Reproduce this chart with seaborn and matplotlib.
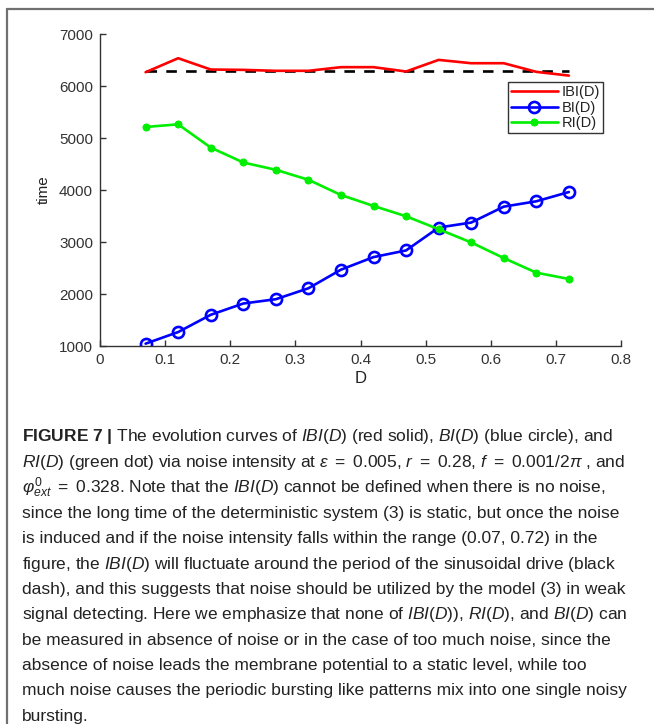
import matplotlib
matplotlib.use("Agg")
import matplotlib.pyplot as plt
import seaborn as sns
import pandas as pd
from matplotlib.lines import Line2D

# Noise intensity D and the three interval measures
noise_D = [0.07, 0.12, 0.17, 0.22, 0.27, 0.32, 0.37, 0.42, 0.47, 0.52, 0.57, 0.62, 0.67, 0.72]
ibi = [6265, 6534, 6317, 6310, 6292, 6292, 6362, 6362, 6279, 6502, 6438, 6438, 6272, 6200]
bi = [1045, 1268, 1600, 1817, 1900, 2110, 2468, 2710, 2838, 3278, 3374, 3680, 3783, 3961]
ri = [5212, 5263, 4816, 4529, 4388, 4197, 3904, 3693, 3495, 3246, 2991, 2691, 2410, 2289]
drive_period = 6283  # 2*pi / 0.001
series_labels = ["IBI(D)", "BI(D)", "RI(D)"]

x_ticks = [0, 0.1, 0.2, 0.3, 0.4, 0.5, 0.6, 0.7, 0.8]
x_tick_labels = ["0", "0.1", "0.2", "0.3", "0.4", "0.5", "0.6", "0.7", "0.8"]
y_ticks = [1000, 2000, 3000, 4000, 5000, 6000, 7000]

caption_lines = [
    r"$\mathbf{FIGURE\ 7\ |}$ The evolution curves of $\mathit{IBI}$($\mathit{D}$) (red solid), $\mathit{BI}$($\mathit{D}$) (blue circle), and",
    r"$\mathit{RI}$($\mathit{D}$) (green dot) via noise intensity at $\varepsilon\ =\ 0.005$, $r\ =\ 0.28$, $f\ =\ 0.001/2\pi$ , and",
    r"$\varphi_{ext}^{0}\ =\ 0.328$. Note that the $\mathit{IBI}$($\mathit{D}$) cannot be defined when there is no noise,",
    "since the long time of the deterministic system (3) is static, but once the noise",
    "is induced and if the noise intensity falls within the range (0.07, 0.72) in the",
    r"figure, the $\mathit{IBI}$($\mathit{D}$) will fluctuate around the period of the sinusoidal drive (black",
    "dash), and this suggests that noise should be utilized by the model (3) in weak",
    r"signal detecting. Here we emphasize that none of $\mathit{IBI}$($\mathit{D}$)), $\mathit{RI}$($\mathit{D}$), and $\mathit{BI}$($\mathit{D}$) can",
    "be measured in absence of noise or in the case of too much noise, since the",
    "absence of noise leads the membrane potential to a static level, while too",
    "much noise causes the periodic bursting like patterns mix into one single noisy",
    "bursting.",
]

sns.set_theme(style="white")
plt.rcParams["font.family"] = ["Liberation Sans", "DejaVu Sans"]
plt.rcParams["mathtext.fontset"] = "custom"
plt.rcParams["mathtext.rm"] = "Liberation Sans"
plt.rcParams["mathtext.it"] = "Liberation Sans:italic"
plt.rcParams["mathtext.bf"] = "Liberation Sans:bold"

W, H = 654, 724
fig = plt.figure(figsize=(W / 100, H / 100), dpi=100)
fig.patch.set_facecolor("white")

# Outer frame (open on the right and bottom)
fig.add_artist(Line2D([7 / W, 7 / W], [0, 1 - 9 / H], color="#707070", lw=1.6,
                      transform=fig.transFigure))
fig.add_artist(Line2D([7 / W, 1], [1 - 9 / H, 1 - 9 / H], color="#707070", lw=1.6,
                      transform=fig.transFigure))

left, right, top, bottom = 100, 621, 34, 346
ax = fig.add_axes([left / W, 1 - bottom / H, (right - left) / W, (bottom - top) / H])

df = pd.DataFrame({"D": noise_D, "IBI": ibi, "BI": bi, "RI": ri})

sns.lineplot(data=df, x="D", y="IBI", ax=ax, color="#ff0000", lw=1.9, label=series_labels[0])
sns.lineplot(data=df, x="D", y="BI", ax=ax, color="#0000ff", lw=1.9, marker="o",
             markersize=8, markerfacecolor="none", markeredgecolor="#0000ff",
             markeredgewidth=1.9, label=series_labels[1])
sns.lineplot(data=df, x="D", y="RI", ax=ax, color="#00ee00", lw=1.9, marker="o",
             markersize=5, markerfacecolor="#00ee00", markeredgecolor="#00ee00",
             label=series_labels[2])
ax.plot([noise_D[0], noise_D[-1]], [drive_period, drive_period], color="black",
        lw=1.9, ls=(0, (4, 3.5)), zorder=1.5)

ax.set_xlim(0, 0.8)
ax.set_ylim(1000, 7000)
ax.set_xticks(x_ticks)
ax.set_xticklabels(x_tick_labels)
ax.set_yticks(y_ticks)
for s in ["top", "right"]:
    ax.spines[s].set_visible(False)
for s in ["left", "bottom"]:
    ax.spines[s].set_color("#333333")
    ax.spines[s].set_linewidth(1.0)
ax.tick_params(direction="in", length=4, width=1, colors="#333333",
               labelsize=11, labelcolor="#333333", left=True, bottom=True, pad=5)
ax.set_xlabel("D", fontsize=12, color="#222222", labelpad=3)
ax.set_ylabel("time", fontsize=11, color="#222222", labelpad=6)

leg = ax.legend(loc="upper left", bbox_to_anchor=((508 - left) / (right - left), 1 - (82 - top) / (bottom - top)),
                frameon=True, fancybox=False, fontsize=10.5, handlelength=3.2,
                borderpad=0.2, labelspacing=0.12, handletextpad=0.3, borderaxespad=0)
leg.get_frame().set_edgecolor("black")
leg.get_frame().set_linewidth(1.0)
for t in leg.get_texts():
    t.set_color("#222222")

# Caption below the plot
y0, dy = 437, 25.4
for i, line in enumerate(caption_lines):
    fig.text(22 / W, 1 - (y0 + i * dy) / H, line, fontsize=12.5,
             color="#222222", ha="left", va="center")

fig.savefig("out.png", dpi=100, facecolor="white")
